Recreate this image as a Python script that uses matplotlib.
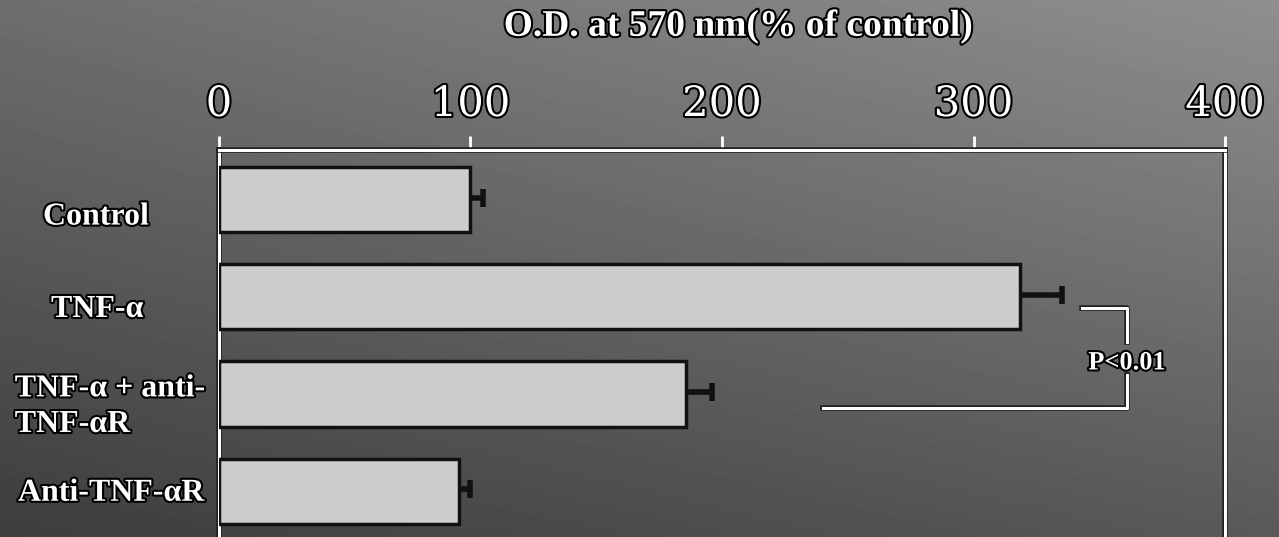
import numpy as np
import matplotlib
matplotlib.use("Agg")
import matplotlib.pyplot as plt
import matplotlib.patheffects as pe
import matplotlib.transforms as mtransforms

groups = ["Control", "TNF-\u03b1", "TNF-\u03b1 + anti-\nTNF-\u03b1R", "Anti-TNF-\u03b1R"]
od = [100, 318.5, 185.5, 95.5]
sem = [5, 16.5, 10.5, 4.5]
xticks = [0, 100, 200, 300, 400]

# significance bracket between TNF-a and TNF-a + anti-TNF-aR
brk_top_y, brk_bot_y = 1.11, 2.14
brk_x, brk_top_x0, brk_bot_x0 = 361, 343, 240
p_text = "P<0.01"

outline = [pe.withStroke(linewidth=3, foreground="black")]

fig = plt.figure(figsize=(12.79, 5.37), dpi=100)

# dark gradient backdrop
bg = fig.add_axes([0, 0, 1, 1])
gx, gy = np.meshgrid(np.linspace(0, 1, 300), np.linspace(0, 1, 150))
shade = 0.24 + 0.11 * gx + 0.19 * gy + 0.02 * gx * gy
bg.imshow(shade, cmap="gray", vmin=0, vmax=1, aspect="auto", origin="lower",
          extent=[0, 1, 0, 1])
bg.set_axis_off()

ax = fig.add_axes([0.1712, 0.0, 0.7866, 0.7207])
ax.patch.set_alpha(0)
ypos = np.arange(len(groups))
ax.barh(ypos, od, height=0.67, color="#cdcdcd", edgecolor="#111111", linewidth=2.5, zorder=3)
# one-sided error bars, cap only at the outer end
ends = np.array(od) + np.array(sem)
ax.hlines(ypos - 0.02, od, ends, color="#111111", lw=4, zorder=4)
ax.plot(ends, ypos - 0.02, ls="none", marker="|", ms=13, mew=4, color="#111111", zorder=4)

ax.set_xlim(0, 400)
ax.set_ylim(3.47, -0.51)
ax.xaxis.tick_top()
ax.set_xticks(xticks)
ax.set_xticklabels([str(t) for t in xticks], family="DejaVu Serif", fontsize=30,
                   color="white", path_effects=outline)
ax.tick_params(axis="x", direction="out", length=10, width=2, color="white", pad=8)
ax.set_yticks([])
for side in ["top", "left", "right"]:
    ax.spines[side].set_color("white")
    ax.spines[side].set_linewidth(2)
    ax.spines[side].set_path_effects([pe.withStroke(linewidth=4, foreground="#222222"), pe.Normal()])
ax.spines["bottom"].set_visible(False)

ax.set_xlabel("O.D. at 570 nm(% of control)", family="Liberation Serif", fontweight="bold",
              fontsize=27, color="white", labelpad=34, path_effects=outline)
ax.xaxis.set_label_position("top")
ax.xaxis.label.set_x(0.516)

# category labels, left of the axis
trans = mtransforms.blended_transform_factory(fig.transFigure, ax.transData)
label_x = [0.075, 0.076, 0.086, 0.087]
label_dy = [0.18, 0.13, 0.13, 0.02]
for y, name, lx, dy in zip(ypos, groups, label_x, label_dy):
    ax.text(lx, y + dy, name, transform=trans, ha="center", va="center",
            multialignment="left", family="Liberation Serif", fontweight="bold",
            fontsize=23, color="white", linespacing=1.3, path_effects=outline,
            clip_on=False)

line_fx = [pe.withStroke(linewidth=4, foreground="#222222"), pe.Normal()]
ax.plot([brk_top_x0, brk_x, brk_x], [brk_top_y, brk_top_y, 1.46], color="white", lw=2,
        path_effects=line_fx, zorder=5)
ax.plot([brk_x, brk_x, brk_bot_x0], [1.80, brk_bot_y, brk_bot_y], color="white", lw=2,
        path_effects=line_fx, zorder=5)
ax.text(brk_x, 1.68, p_text, ha="center", va="center", family="Liberation Serif",
        fontweight="bold", fontsize=19, color="white", path_effects=outline, zorder=6)

fig.savefig("out.png", dpi=100)
